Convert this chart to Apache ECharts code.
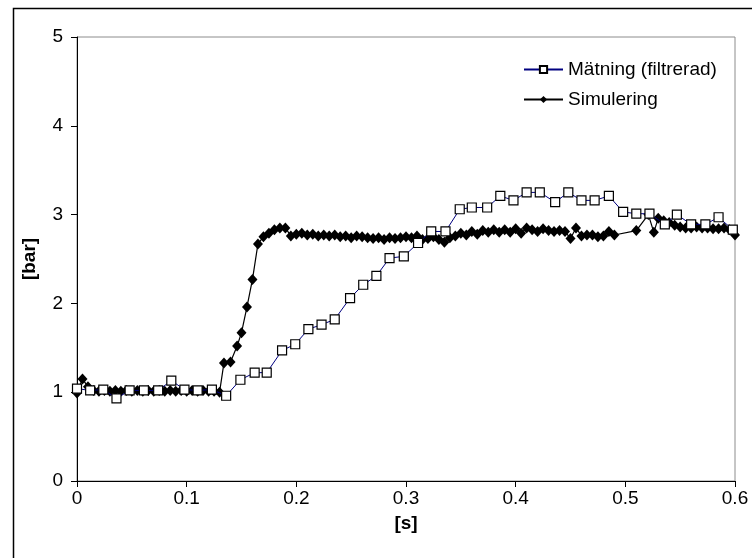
<!DOCTYPE html>
<html>
<head>
<meta charset="utf-8">
<script src="https://cdn.jsdelivr.net/npm/echarts@6/dist/echarts.min.js"></script>
<style>
html,body{margin:0;padding:0;background:#fff;}
#chart{width:752px;height:558px;}
</style>
</head>
<body>
<div id="chart"></div>
<script>
// Mätning (filtrerad): [time s, pressure bar]
var matningTime = [0, 0.012, 0.024, 0.036, 0.048, 0.061, 0.074, 0.086, 0.098, 0.11, 0.123, 0.136, 0.149, 0.162, 0.173, 0.187, 0.199, 0.211, 0.223, 0.235, 0.249, 0.261, 0.273, 0.285, 0.298, 0.311, 0.323, 0.336, 0.349, 0.36, 0.374, 0.386, 0.398, 0.41, 0.422, 0.436, 0.448, 0.46, 0.472, 0.485, 0.498, 0.51, 0.522, 0.536, 0.547, 0.56, 0.573, 0.585, 0.598];
var matningValue = [1.04, 1.02, 1.03, 0.93, 1.02, 1.02, 1.02, 1.13, 1.03, 1.02, 1.03, 0.96, 1.14, 1.22, 1.22, 1.47, 1.54, 1.71, 1.76, 1.82, 2.06, 2.21, 2.31, 2.51, 2.53, 2.68, 2.81, 2.81, 3.06, 3.08, 3.08, 3.21, 3.16, 3.25, 3.25, 3.14, 3.25, 3.16, 3.16, 3.21, 3.03, 3.01, 3.01, 2.89, 3.0, 2.89, 2.89, 2.97, 2.83];

// Simulering
var simTime = [0, 0.005, 0.01, 0.015, 0.02, 0.025, 0.03, 0.035, 0.04, 0.045, 0.05, 0.055, 0.06, 0.065, 0.07, 0.075, 0.08, 0.085, 0.09, 0.095, 0.1, 0.105, 0.11, 0.115, 0.12, 0.125, 0.13, 0.134, 0.14, 0.146, 0.15, 0.155, 0.16, 0.165, 0.17, 0.175, 0.18, 0.185, 0.19, 0.195, 0.2, 0.205, 0.21, 0.215, 0.22, 0.225, 0.23, 0.235, 0.24, 0.245, 0.25, 0.255, 0.26, 0.265, 0.27, 0.275, 0.28, 0.285, 0.29, 0.295, 0.3, 0.305, 0.31, 0.315, 0.32, 0.325, 0.33, 0.335, 0.34, 0.345, 0.35, 0.355, 0.36, 0.365, 0.37, 0.375, 0.38, 0.385, 0.39, 0.395, 0.4, 0.405, 0.41, 0.415, 0.42, 0.425, 0.43, 0.435, 0.44, 0.445, 0.45, 0.455, 0.46, 0.465, 0.47, 0.475, 0.48, 0.485, 0.49, 0.51, 0.521, 0.526, 0.53, 0.535, 0.54, 0.545, 0.55, 0.555, 0.56, 0.565, 0.57, 0.575, 0.58, 0.585, 0.59, 0.595, 0.6];
var simValue = [0.99, 1.15, 1.06, 1.02, 1.01, 1.02, 1.01, 1.02, 1.01, 1.02, 1.01, 1.02, 1.01, 1.02, 1.01, 1.02, 1.01, 1.02, 1.01, 1.02, 1.01, 1.02, 1.01, 1.02, 1.01, 1.01, 1.0, 1.33, 1.34, 1.52, 1.67, 1.96, 2.27, 2.67, 2.75, 2.79, 2.83, 2.85, 2.85, 2.76, 2.78, 2.79, 2.77, 2.78, 2.76, 2.77, 2.76, 2.77, 2.75, 2.76, 2.74, 2.76, 2.75, 2.74, 2.73, 2.74, 2.72, 2.74, 2.73, 2.74, 2.75, 2.74, 2.76, 2.72, 2.73, 2.75, 2.72, 2.69, 2.74, 2.76, 2.79, 2.77, 2.81, 2.78, 2.82, 2.8, 2.83, 2.8, 2.83, 2.8, 2.84, 2.79, 2.85, 2.83, 2.81, 2.84, 2.82, 2.81, 2.82, 2.81, 2.73, 2.85, 2.76, 2.77, 2.77, 2.75, 2.76, 2.81, 2.77, 2.82, 3.0, 2.8, 2.96, 2.93, 2.91, 2.88, 2.86, 2.85, 2.85, 2.86, 2.85, 2.85, 2.84, 2.84, 2.85, 2.83, 2.77];

var xTicks = {min: 0, max: 0.6, interval: 0.1};
var yTicks = {min: 0, max: 5, interval: 1};

function pairs(xs, ys) { return xs.map(function (x, i) { return [x, ys[i]]; }); }

var FONT = 'Liberation Sans, Arial, sans-serif';
var chart = echarts.init(document.getElementById('chart'), null, {renderer: 'canvas'});
chart.setOption({
  animation: false,
  backgroundColor: '#fff',
  textStyle: {fontFamily: FONT},
  graphic: [{
    type: 'rect', left: 11, top: 6, z: 100, silent: true,
    shape: {x: 0, y: 0, width: 800, height: 600},
    style: {fill: 'none', stroke: '#000', lineWidth: 1.5}
  }],
  grid: {left: 77, right: 17, top: 37, bottom: 77, show: true, borderColor: '#8c8c8c', borderWidth: 1},
  legend: {
    orient: 'vertical', left: 518, top: 55, itemWidth: 39, itemHeight: 9, itemGap: 11,
    textStyle: {fontSize: 19, color: '#000', fontFamily: FONT},
    data: ['Mätning (filtrerad)', 'Simulering']
  },
  xAxis: {
    type: 'value', min: xTicks.min, max: xTicks.max, interval: xTicks.interval,
    name: '[s]', nameLocation: 'middle', nameGap: 33,
    nameTextStyle: {fontSize: 19, fontWeight: 'bold', color: '#000', fontFamily: FONT},
    axisLine: {show: true, onZero: false, lineStyle: {color: '#000', width: 1}},
    axisTick: {show: true, inside: false, length: 6, lineStyle: {color: '#000'}},
    axisLabel: {fontSize: 19, color: '#000', margin: 8, fontFamily: FONT},
    splitLine: {show: false}
  },
  yAxis: {
    type: 'value', min: yTicks.min, max: yTicks.max, interval: yTicks.interval,
    name: '[bar]', nameLocation: 'middle', nameGap: 38, nameRotate: 90,
    nameTextStyle: {fontSize: 19, fontWeight: 'bold', color: '#000', fontFamily: FONT},
    axisLine: {show: true, onZero: false, lineStyle: {color: '#000', width: 1}},
    axisTick: {show: true, inside: false, length: 6, lineStyle: {color: '#000'}},
    axisLabel: {fontSize: 19, color: '#000', margin: 14, fontFamily: FONT},
    splitLine: {show: false}
  },
  series: [
    {
      name: 'Mätning (filtrerad)', type: 'line', data: pairs(matningTime, matningValue),
      symbol: 'rect', symbolSize: 9, showAllSymbol: true, clip: false, z: 3,
      lineStyle: {color: '#000080', width: 1},
      itemStyle: {color: '#fff', borderColor: '#000', borderWidth: 1.2}
    },
    {
      name: 'Simulering', type: 'line', data: pairs(simTime, simValue),
      symbol: 'diamond', symbolSize: [10, 11], showAllSymbol: true, clip: false, z: 2,
      lineStyle: {color: '#000', width: 1.2},
      itemStyle: {color: '#000', borderColor: '#000', borderWidth: 0}
    }
  ]
});
</script>
</body>
</html>
